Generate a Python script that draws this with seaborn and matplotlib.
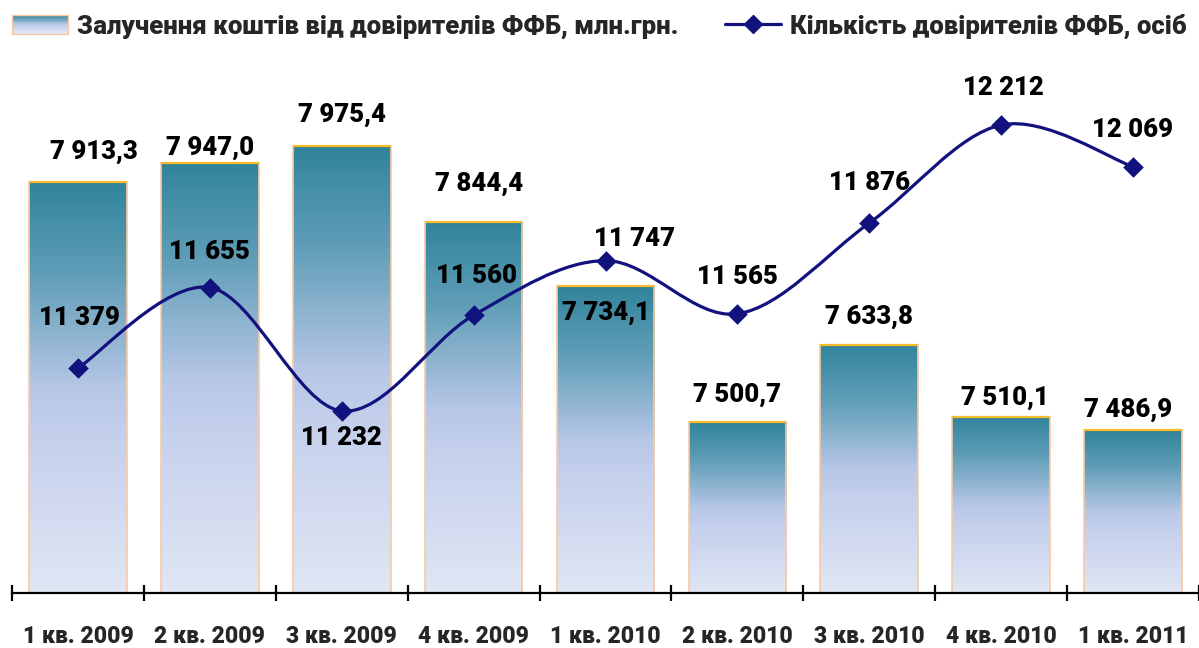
import numpy as np
import matplotlib
matplotlib.use("Agg")
import matplotlib.pyplot as plt
import seaborn as sns
from matplotlib.path import Path
from matplotlib.patches import PathPatch, Patch, Rectangle
from matplotlib.lines import Line2D
from matplotlib.colors import LinearSegmentedColormap
from matplotlib.legend_handler import HandlerBase

# ---------------- data ----------------
categories = ["1 кв. 2009", "2 кв. 2009", "3 кв. 2009", "4 кв. 2009", "1 кв. 2010",
              "2 кв. 2010", "3 кв. 2010", "4 кв. 2010", "1 кв. 2011"]
funds = [7913.3, 7947.0, 7975.4, 7844.4, 7734.1, 7500.7, 7633.8, 7510.1, 7486.9]
clients = [11379, 11655, 11232, 11560, 11747, 11565, 11876, 12212, 12069]
funds_labels = ["7 913,3", "7 947,0", "7 975,4", "7 844,4", "7 734,1",
                "7 500,7", "7 633,8", "7 510,1", "7 486,9"]
clients_labels = ["11 379", "11 655", "11 232", "11 560", "11 747",
                  "11 565", "11 876", "12 212", "12 069"]
legend_bar = "Залучення коштів від довірителів ФФБ, млн.грн."
legend_line = "Кількість довірителів ФФБ, осіб"

# ---------------- style ----------------
sns.set_theme(style="white")
plt.rcParams["font.family"] = ["Roboto", "DejaVu Sans"]
WEIGHT = "heavy"
LABEL_FS = 18.5

# label offsets in pixels (dx, dy)
bar_off = [(16, 30), (0, 15), (0, 31), (6, 38), (1, -27), (0, 27), (0, 28), (4, 19), (-5, 20)]
line_off = [(1, 50), (0, 36), (0, -27), (3, 39), (29, 22), (0, 37), (0, 40), (2, 37), (-1, 37)]

W, H = 1199, 648
fig = plt.figure(figsize=(W / 100, H / 100), dpi=100)
ax_left, ax_bottom, ax_top = 12, 593, 50
ax = fig.add_axes([ax_left / W, (H - ax_bottom) / H, (W - ax_left) / W, (ax_bottom - ax_top) / H])

sns.barplot(x=categories, y=funds, ax=ax, width=0.74, color="none", saturation=1)
ymin, ymax = 7206.6, 8140.6
ax.set_ylim(ymin, ymax)
ax.set_xlim(-0.5, -0.5 + (W - ax_left) / 132.5)

grad_stops = [(0.0, "#31849b"), (0.22, "#5f9db7"), (0.5, "#b6c7e5"), (0.62, "#c5d0ec"), (1.0, "#e0e6f4")]
cmap = LinearSegmentedColormap.from_list("grad", grad_stops)
grad = np.linspace(0, 1, 256).reshape(-1, 1)
for p in ax.patches:
    x0 = p.get_x()
    w = p.get_width()
    top = p.get_y() + p.get_height()
    ax.imshow(grad, cmap=cmap, aspect="auto", extent=[x0, x0 + w, ymin, top],
              origin="upper", zorder=1, interpolation="bilinear")
    p.set_facecolor("none")
    p.set_edgecolor("#f8c9a2")
    p.set_linewidth(1.2)
    p.set_zorder(2)
    ax.plot([x0, x0 + w], [top, top], color="#f7bb2a", lw=1.6, zorder=3, solid_capstyle="butt")

for s in ["left", "right", "top"]:
    ax.spines[s].set_visible(False)
ax.spines["bottom"].set_color("black")
ax.spines["bottom"].set_linewidth(1.6)
ax.spines["bottom"].set_zorder(4)
ax.set_yticks([])
ax.set_xticks(np.arange(-0.5, 9.0, 1.0))
ax.set_xticklabels([])
ax.set_xticks(np.arange(len(categories)), minor=True)
ax.set_xticklabels(categories, minor=True, fontsize=16.5, fontweight=WEIGHT)
ax.tick_params(axis="x", which="major", direction="inout", length=12, width=1.6, color="black", bottom=True)
ax.tick_params(axis="x", which="minor", length=0, pad=23, bottom=True)
ax.set_xlabel("")

for i, (v, lab) in enumerate(zip(funds, funds_labels)):
    dx, dy = bar_off[i]
    ax.annotate(lab, xy=(i, v), xytext=(dx, dy), textcoords="offset pixels",
                ha="center", va="center", fontsize=LABEL_FS, fontweight=WEIGHT, color="black", zorder=6)

# ---------------- line ----------------
ax2 = ax.twinx()
ax2.set_ylim(10608, 12469)
for s in ax2.spines.values():
    s.set_visible(False)
ax2.set_yticks([])

xs = np.arange(len(clients), dtype=float)
ys = np.array(clients, dtype=float)
verts = [(xs[0], ys[0])]
codes = [Path.MOVETO]
n = len(xs)
for i in range(n - 1):
    p0 = np.array([xs[max(i - 1, 0)], ys[max(i - 1, 0)]])
    p1 = np.array([xs[i], ys[i]])
    p2 = np.array([xs[i + 1], ys[i + 1]])
    p3 = np.array([xs[min(i + 2, n - 1)], ys[min(i + 2, n - 1)]])
    c1 = p1 + (p2 - p0) / 6.0
    c2 = p2 - (p3 - p1) / 6.0
    verts += [tuple(c1), tuple(c2), tuple(p2)]
    codes += [Path.CURVE4] * 3
line_color = "#12127e"
ax2.add_patch(PathPatch(Path(verts, codes), facecolor="none", edgecolor=line_color, lw=2.3, zorder=4))
sns.scatterplot(x=xs, y=ys, ax=ax2, marker="D", s=110, color=line_color, edgecolor=line_color,
                linewidth=0, zorder=5, legend=False)

for i, (v, lab) in enumerate(zip(clients, clients_labels)):
    dx, dy = line_off[i]
    ax2.annotate(lab, xy=(i, v), xytext=(dx, dy), textcoords="offset pixels",
                 ha="center", va="center", fontsize=LABEL_FS, fontweight=WEIGHT, color="black", zorder=6)


# ---------------- legend ----------------
class GradientHandler(HandlerBase):
    def create_artists(self, legend, orig_handle, xdescent, ydescent, width, height, fontsize, trans):
        arts = []
        nstripes = 24
        h = height * 1.05
        y0 = -ydescent + (height - h) / 2
        for k in range(nstripes):
            frac = (k + 0.5) / nstripes
            col = cmap(frac)
            r = Rectangle((-xdescent, y0 + h * (1 - (k + 1) / nstripes)), width, h / nstripes + 0.3,
                          facecolor=col, edgecolor="none", transform=trans)
            arts.append(r)
        frame = Rectangle((-xdescent, y0), width, h, facecolor="none", edgecolor="#f8c9a2",
                          lw=1.0, transform=trans)
        arts.append(frame)
        return arts


bar_handle = Patch(facecolor="#8fb3cb")
line_handle = Line2D([0], [0], color=line_color, lw=2.3, marker="D", markersize=9)
fig.legend([bar_handle, line_handle], [legend_bar, legend_line], loc="center",
           bbox_to_anchor=(0.5, 1 - 26 / H), ncol=2, frameon=False,
           handler_map={Patch: GradientHandler()},
           handlelength=2.2, handletextpad=0.35, columnspacing=1.8,
           prop={"weight": WEIGHT, "size": 18.5})

fig.savefig("out.png", dpi=100)
